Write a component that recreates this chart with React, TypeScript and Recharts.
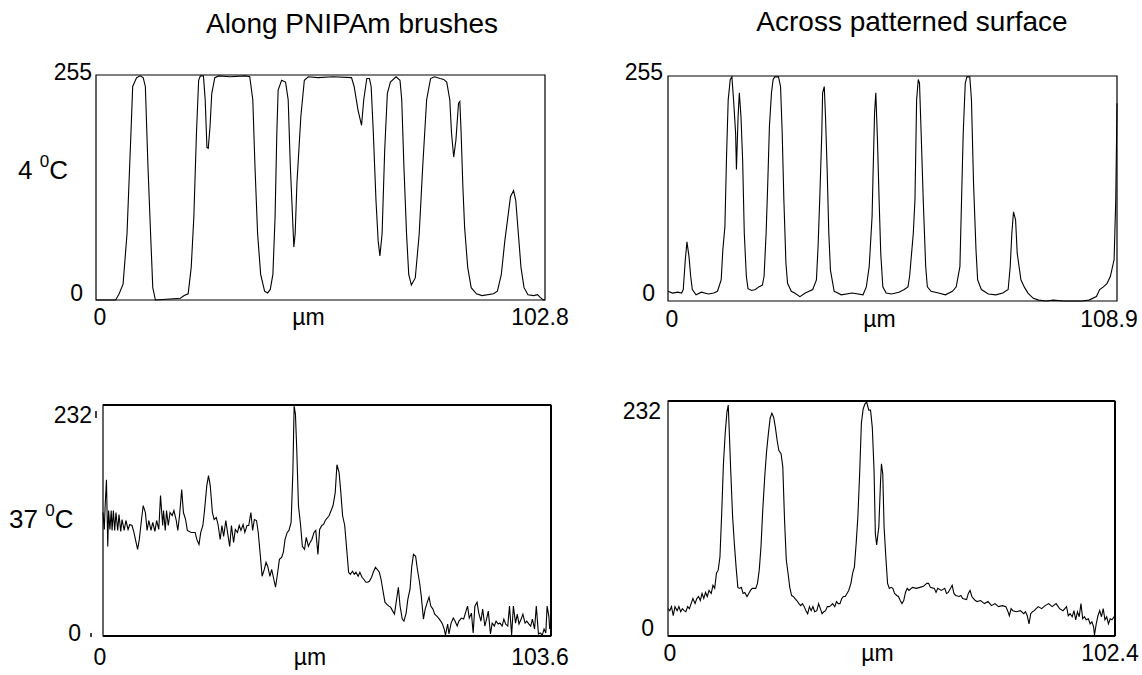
import { Line, LineChart, ReferenceArea, ReferenceLine, XAxis, YAxis } from 'recharts';

const FONT = '"Liberation Sans", Arial, Helvetica, sans-serif';

// grey-level profiles: [position in µm, intensity]
const along4C: [number, number][] = [
  [0, 0], [4.5, 0], [5.3, 7], [6.2, 18], [7.1, 75], [8.0, 189], [8.4, 242], [9.3, 252], [10.1, 254], [10.8, 252],
  [11.3, 242], [11.9, 151], [12.5, 75], [13.0, 14], [13.6, 0], [19.3, 2], [20.2, 5], [21.1, 7], [21.8, 37], [22.4, 94],
  [23.0, 189], [23.5, 249], [23.9, 254], [24.6, 254], [25.0, 227], [25.4, 173], [25.7, 172], [26.1, 196], [26.5, 234],
  [27.2, 252], [28.1, 254], [30.7, 253], [34.2, 254], [35.2, 253], [35.9, 227], [36.4, 151], [37.0, 75], [37.7, 29],
  [38.6, 10], [39.3, 8], [39.9, 12], [40.5, 29], [41.0, 94], [41.4, 189], [41.7, 238], [42.5, 249], [43.4, 247],
  [44.0, 227], [44.5, 151], [45.3, 60], [45.6, 75], [46.0, 132], [46.9, 208], [47.7, 249], [48.6, 253], [50.8, 252],
  [54.3, 253], [58.5, 252], [59.1, 242], [60.0, 215], [60.8, 198], [61.3, 227], [62.0, 251], [62.6, 251], [63.0, 242],
  [63.5, 189], [64.1, 113], [64.6, 67], [65.0, 50], [65.5, 75], [66.1, 170], [66.7, 234], [67.4, 247], [68.7, 253],
  [69.6, 249], [70.0, 227], [70.5, 151], [71.1, 75], [71.6, 29], [72.2, 17], [73.1, 25], [74.0, 75], [74.8, 151],
  [75.7, 227], [76.6, 251], [77.5, 253], [78.8, 251], [79.6, 250], [80.3, 247], [81.0, 227], [81.4, 189], [81.9, 162],
  [82.4, 181], [83.0, 223], [83.3, 225], [83.6, 189], [84.0, 128], [84.4, 82], [85.1, 37], [85.9, 14], [87.1, 7],
  [88.4, 5], [91.0, 7], [91.9, 10], [92.8, 29], [93.6, 67], [94.3, 94], [94.9, 117], [95.6, 124], [96.1, 113],
  [96.7, 75], [97.3, 37], [98.0, 14], [98.9, 6], [100.2, 5], [101.1, 6], [101.7, 3], [102.4, 0], [102.8, 0],
];

const across4C: [number, number][] = [
  [0, 11], [1.1, 9], [2.4, 10], [3.3, 9], [3.7, 13], [4.2, 47], [4.6, 67], [5.1, 50], [5.5, 28], [5.9, 13], [6.8, 7],
  [8.1, 10], [9.8, 8], [11.1, 9], [12.0, 11], [12.9, 24], [13.3, 58], [13.8, 84], [14.2, 164], [14.6, 228], [15.1, 251],
  [15.5, 254], [15.9, 228], [16.4, 190], [16.6, 149], [17.0, 209], [17.3, 236], [17.7, 209], [18.1, 160], [18.5, 77],
  [19.0, 28], [19.4, 14], [20.3, 12], [21.2, 13], [22.0, 16], [22.9, 18], [23.3, 28], [23.8, 77], [24.2, 134],
  [24.6, 198], [25.1, 236], [25.5, 251], [25.9, 254], [26.8, 254], [27.3, 243], [27.7, 190], [28.1, 115], [28.6, 43],
  [29.0, 20], [29.9, 11], [30.7, 9], [32.0, 5], [33.3, 9], [35.1, 13], [36.0, 24], [36.4, 62], [36.8, 115], [37.3, 190],
  [37.5, 236], [37.9, 243], [38.2, 209], [38.6, 149], [39.0, 77], [39.4, 35], [40.3, 11], [41.2, 9], [42.0, 7],
  [44.7, 9], [47.3, 7], [48.1, 16], [48.8, 39], [49.5, 96], [49.7, 137], [50.1, 213], [50.4, 236], [50.8, 183],
  [51.2, 115], [51.6, 54], [52.1, 16], [52.9, 9], [54.2, 8], [56.0, 10], [57.3, 13], [58.2, 16], [58.6, 28], [59.5, 77],
  [59.9, 115], [60.3, 228], [60.7, 251], [61.0, 247], [61.4, 190], [61.9, 115], [62.5, 39], [62.9, 16], [63.8, 11],
  [65.6, 9], [67.3, 7], [69.0, 11], [69.9, 16], [70.8, 39], [71.2, 115], [71.6, 190], [72.1, 247], [72.5, 254],
  [73.2, 254], [73.6, 228], [74.1, 134], [74.7, 58], [75.1, 24], [76.0, 13], [77.7, 8], [79.5, 7], [81.2, 9], [82.5, 13],
  [83.0, 39], [83.4, 77], [83.8, 101], [84.3, 92], [84.7, 54], [85.6, 24], [86.4, 16], [87.3, 9], [88.6, 3], [89.9, 1],
  [91.7, 0], [93.4, 1], [96.0, 0], [98.6, 0], [100.4, 0], [102.1, 1], [103.9, 5], [104.7, 13], [105.6, 16], [106.5, 20],
  [107.3, 28], [108.2, 47], [108.6, 115], [108.9, 224],
];

const along37C: [number, number][] = [
  [0, 124], [0.3, 107], [0.5, 131], [0.8, 157], [1.1, 90], [1.3, 126], [1.6, 107], [1.9, 126], [2.1, 106], [2.4, 126],
  [2.7, 106], [3.0, 124], [3.4, 106], [3.7, 122], [4.1, 105], [4.4, 117], [4.9, 106], [5.3, 116], [5.8, 107], [6.2, 112],
  [6.7, 111], [7.1, 105], [7.5, 97], [8.0, 87], [8.4, 97], [8.9, 117], [9.3, 131], [9.8, 124], [10.2, 106], [10.6, 116],
  [11.1, 106], [11.5, 114], [12.0, 105], [12.4, 116], [12.9, 107], [13.3, 141], [13.8, 111], [14.0, 126], [14.4, 106],
  [14.7, 126], [15.1, 111], [15.5, 124], [16.0, 121], [16.4, 126], [16.9, 117], [17.3, 106], [17.7, 121], [18.2, 147],
  [18.6, 124], [19.1, 117], [19.5, 106], [20.4, 104], [21.3, 104], [21.7, 97], [22.2, 92], [22.6, 104], [23.1, 111],
  [23.5, 127], [24.0, 151], [24.4, 161], [24.8, 151], [25.3, 124], [25.7, 117], [26.2, 119], [26.6, 112], [27.1, 97],
  [27.5, 111], [27.9, 100], [28.4, 116], [28.8, 104], [29.3, 90], [29.7, 111], [30.2, 94], [30.6, 107], [31.1, 104],
  [31.5, 111], [31.9, 106], [32.4, 112], [32.8, 104], [33.3, 111], [33.7, 111], [34.2, 124], [34.6, 106], [35.0, 117],
  [35.5, 116], [35.9, 104], [36.4, 80], [36.8, 60], [37.3, 67], [37.7, 74], [38.1, 70], [38.6, 60], [39.0, 67],
  [39.5, 57], [39.9, 49], [40.4, 64], [40.8, 77], [41.3, 79], [41.7, 84], [42.1, 97], [42.6, 104], [43.0, 106],
  [43.5, 114], [43.9, 164], [44.2, 231], [44.5, 223], [44.8, 188], [45.2, 131], [45.7, 111], [46.1, 90], [46.6, 87],
  [47.0, 99], [47.5, 90], [47.9, 94], [48.3, 97], [48.8, 104], [49.2, 106], [49.7, 82], [50.1, 107], [50.6, 111],
  [51.0, 112], [51.4, 116], [52.3, 121], [53.2, 131], [53.7, 144], [54.1, 172], [54.6, 164], [55.0, 144], [55.4, 121],
  [55.9, 111], [56.3, 90], [56.8, 64], [57.2, 62], [57.7, 65], [58.1, 62], [58.5, 64], [59.0, 60], [59.4, 64],
  [59.9, 59], [60.3, 57], [60.8, 54], [61.2, 54], [61.6, 55], [62.1, 59], [62.5, 64], [63.0, 69], [63.4, 67], [63.9, 64],
  [64.3, 57], [64.8, 44], [65.2, 34], [65.6, 32], [66.1, 30], [66.5, 29], [67.0, 25], [67.4, 22], [67.9, 37], [68.3, 49],
  [68.7, 30], [69.2, 17], [69.6, 15], [70.1, 23], [70.5, 37], [71.0, 47], [71.4, 70], [71.8, 82], [72.3, 80], [72.7, 67],
  [73.2, 54], [73.6, 40], [74.1, 17], [74.5, 27], [75.0, 34], [75.4, 39], [75.8, 30], [76.3, 27], [76.7, 22], [77.2, 20],
  [77.6, 18], [78.1, 15], [78.5, 12], [78.9, 7], [79.2, 1], [79.7, 12], [80.0, 2], [80.5, 13], [81.0, 18], [81.4, 15],
  [81.9, 10], [82.3, 15], [82.9, 18], [83.4, 17], [83.8, 23], [84.3, 30], [84.7, 18], [85.2, 23], [85.6, 3], [86.0, 30],
  [86.5, 34], [86.9, 23], [87.4, 15], [87.8, 27], [88.3, 10], [88.7, 17], [89.1, 25], [89.6, 2], [90.0, 13], [90.5, 10],
  [90.9, 15], [91.4, 12], [91.8, 13], [92.3, 10], [92.7, 17], [93.1, 12], [93.6, 10], [94.0, 30], [94.5, 1], [94.9, 30],
  [95.4, 13], [95.8, 22], [96.2, 12], [96.7, 17], [97.1, 22], [97.6, 13], [98.0, 15], [98.5, 12], [98.9, 10], [99.3, 17],
  [99.8, 7], [100.2, 30], [100.7, 2], [101.1, 3], [101.6, 1], [102.0, 7], [102.4, 3], [102.7, 30], [103.1, 20],
  [103.3, 7], [103.6, 12],
];

const across37C: [number, number][] = [
  [0, 27], [0.4, 25], [0.8, 29], [1.2, 20], [1.6, 29], [2.1, 25], [2.5, 29], [2.9, 24], [3.3, 27], [3.7, 25], [4.1, 24],
  [4.5, 29], [4.9, 27], [5.3, 32], [5.7, 37], [6.2, 32], [6.6, 37], [7.0, 39], [7.4, 35], [7.8, 42], [8.2, 37], [8.6, 43],
  [9.0, 39], [9.4, 45], [9.9, 42], [10.3, 50], [10.7, 47], [11.1, 62], [11.5, 65], [11.9, 78], [12.3, 121], [12.7, 170],
  [13.1, 200], [13.5, 221], [13.8, 228], [14.0, 206], [14.4, 160], [14.8, 118], [15.2, 91], [15.6, 68], [16.0, 48],
  [16.4, 47], [16.8, 48], [17.2, 42], [17.6, 43], [18.1, 39], [18.5, 42], [18.9, 45], [19.3, 47], [19.7, 47], [20.1, 47],
  [20.5, 52], [20.9, 65], [21.3, 88], [21.7, 124], [22.2, 160], [22.6, 183], [23.0, 200], [23.4, 215], [23.8, 220],
  [24.2, 216], [24.6, 206], [25.0, 193], [25.4, 183], [25.9, 180], [26.3, 167], [26.7, 114], [27.1, 75], [27.5, 62],
  [27.9, 48], [28.3, 40], [28.7, 39], [29.1, 37], [29.5, 35], [30.0, 32], [30.4, 30], [30.8, 32], [31.2, 29], [31.6, 25],
  [32.0, 22], [32.4, 29], [32.8, 25], [33.2, 29], [33.6, 24], [34.1, 25], [34.5, 32], [34.9, 27], [35.3, 22], [35.7, 24],
  [36.1, 25], [36.5, 29], [36.9, 29], [37.3, 30], [37.7, 32], [38.2, 29], [38.6, 34], [39.0, 32], [39.4, 32], [39.8, 37],
  [40.2, 39], [40.6, 39], [41.0, 42], [41.4, 45], [41.9, 52], [42.3, 62], [42.7, 68], [43.1, 91], [43.5, 118],
  [43.9, 160], [44.3, 210], [44.7, 224], [45.1, 229], [45.5, 231], [46.0, 223], [46.4, 223], [46.8, 206], [47.2, 164],
  [47.5, 101], [47.8, 90], [48.3, 108], [48.7, 154], [48.9, 170], [49.2, 160], [49.5, 108], [49.9, 78], [50.3, 52],
  [50.7, 47], [51.1, 48], [51.5, 47], [51.9, 42], [52.4, 40], [52.8, 39], [53.2, 35], [53.6, 32], [54.0, 35], [54.4, 43],
  [54.8, 47], [55.2, 45], [56.0, 48], [56.9, 47], [57.7, 48], [58.5, 49], [59.3, 52], [59.7, 52], [60.1, 48], [61.0, 47],
  [61.4, 43], [61.8, 47], [62.6, 45], [63.4, 47], [63.8, 42], [64.2, 43], [65.1, 50], [65.5, 42], [65.9, 40], [66.7, 39],
  [67.1, 40], [67.5, 37], [68.4, 36], [68.8, 42], [69.2, 45], [69.6, 39], [70.0, 37], [70.4, 35], [70.8, 34], [71.6, 35],
  [72.5, 32], [73.3, 34], [74.1, 30], [74.9, 32], [75.7, 29], [76.6, 30], [77.4, 29], [77.8, 25], [78.2, 20], [78.6, 27],
  [79.0, 25], [79.8, 24], [80.7, 25], [81.5, 22], [81.9, 24], [82.3, 20], [82.7, 12], [83.1, 22], [83.5, 24], [83.9, 25],
  [84.8, 29], [85.6, 27], [86.4, 30], [87.2, 32], [88.0, 29], [88.9, 32], [89.7, 27], [90.5, 25], [91.3, 29], [91.7, 20],
  [92.1, 22], [92.6, 19], [93.0, 25], [93.4, 16], [93.8, 24], [94.2, 19], [94.6, 32], [95.0, 17], [95.4, 19], [95.8, 16],
  [96.3, 17], [96.7, 12], [97.1, 14], [97.5, 9], [97.7, 1], [98.1, 12], [98.5, 20], [98.9, 25], [99.3, 19], [99.7, 27],
  [100.1, 16], [100.5, 19], [100.9, 12], [101.3, 17], [101.7, 16], [102.2, 19], [102.4, 16],
];

// axis ranges (x end is the scan length, y end the grey-level maximum)
const xEnds = [102.8, 108.9, 103.6, 102.4];
const yEnds = [255, 255, 232, 232];

const titles = ['Along PNIPAm brushes', 'Across patterned surface'];
const temps = ['4', '37'];
const unitLabel = 'µm';

// layout per panel: plot box in page px and label nudges
const PAD_L = 90;
const PAD_T = 20;
const PAD_R = 30;
const PAD_B = 50;
const Y_W = 60;
const X_H = 40;

const panels = [
  { data: along4C, box: { l: 96, t: 75, r: 545, b: 300 }, heavy: false,
    yTop: [-4, 5], yBot: [-13, 1], xBase: 25, x0: 4, x1: -5, unitDx: -12, marks: false },
  { data: across4C, box: { l: 668, t: 76, r: 1117, b: 301 }, heavy: false,
    yTop: [-5, 4], yBot: [-13, 0], xBase: 26, x0: 4, x1: -8, unitDx: -13, marks: false },
  { data: along37C, box: { l: 103, t: 405, r: 551, b: 636 }, heavy: true,
    yTop: [-11, 18], yBot: [-22, 5], xBase: 29, x0: -3, x1: -11, unitDx: -17, marks: true },
  { data: across37C, box: { l: 668, t: 401, r: 1115, b: 636 }, heavy: true,
    yTop: [-7, 18], yBot: [-14, 0], xBase: 25, x0: 2, x1: -5, unitDx: -14, marks: false },
];

const textStyle = { fontFamily: FONT, fontSize: 23, fill: '#000' };

function Profile({ idx }: { idx: number }) {
  const cfg = panels[idx];
  const xMax = xEnds[idx];
  const yMax = yEnds[idx];
  const w = cfg.box.r - cfg.box.l;
  const h = cfg.box.b - cfg.box.t;
  const bottom = PAD_T + h;
  const rows = cfg.data.map(([x, v]) => ({ x, v }));

  const xTick = (p: any) => {
    const first = p.index === 0;
    return (
      <text x={p.x + (first ? cfg.x0 : cfg.x1)} y={bottom + cfg.xBase} textAnchor="middle" {...textStyle}>
        {p.payload.value}
      </text>
    );
  };

  const yTick = (p: any) => {
    const top = p.payload.value === yMax;
    const [dx, dy] = top ? cfg.yTop : cfg.yBot;
    const y = (top ? PAD_T : bottom) + dy;
    return (
      <g>
        <text x={PAD_L + dx} y={y} textAnchor="end" {...textStyle}>
          {p.payload.value}
        </text>
        {cfg.marks && (
          <line
            x1={PAD_L + (top ? -7 : -12)}
            x2={PAD_L + (top ? -7 : -12)}
            y1={top ? PAD_T + 6 : bottom - 3}
            y2={top ? PAD_T + 13 : bottom + 1}
            stroke="#000"
            strokeWidth={1.5}
          />
        )}
      </g>
    );
  };

  const unit = () => (
    <text x={PAD_L + w / 2 + cfg.unitDx} y={bottom + cfg.xBase} textAnchor="middle" {...textStyle}>
      {unitLabel}
    </text>
  );

  return (
    <div style={{ position: 'absolute', left: cfg.box.l - PAD_L, top: cfg.box.t - PAD_T }}>
      <LineChart
        width={w + PAD_L + PAD_R}
        height={h + PAD_T + PAD_B}
        data={rows}
        margin={{ top: PAD_T, right: PAD_R, bottom: PAD_B - X_H, left: PAD_L - Y_W }}
      >
        <XAxis
          type="number"
          dataKey="x"
          domain={[0, xMax]}
          ticks={[0, xMax]}
          interval={0}
          height={X_H}
          axisLine={false}
          tickLine={false}
          tick={xTick}
          label={unit}
        />
        <YAxis
          type="number"
          domain={[0, yMax]}
          ticks={[0, yMax]}
          interval={0}
          width={Y_W}
          axisLine={false}
          tickLine={false}
          tick={yTick}
        />
        <Line
          type="linear"
          dataKey="v"
          stroke="#000"
          strokeWidth={1.1}
          dot={false}
          isAnimationActive={false}
        />
        <ReferenceArea x1={0} x2={xMax} y1={0} y2={yMax} fill="none" stroke="#000" strokeWidth={1.2} ifOverflow="visible" />
        {cfg.heavy && <ReferenceLine y={yMax} stroke="#000" strokeWidth={2.2} ifOverflow="visible" />}
        {cfg.heavy && <ReferenceLine x={xMax} stroke="#000" strokeWidth={2} ifOverflow="visible" />}
        {cfg.heavy && <ReferenceLine y={0} stroke="#000" strokeWidth={2} ifOverflow="visible" />}
      </LineChart>
    </div>
  );
}

export default function App() {
  return (
    <div style={{ position: 'absolute', left: 0, top: 0, width: 1142, height: 675, background: '#fff', overflow: 'hidden' }}>
      <svg width={1142} height={675} style={{ position: 'absolute', left: 0, top: 0 }}>
        <text x={352} y={33} textAnchor="middle" fontFamily={FONT} fontSize={28} fill="#000">{titles[0]}</text>
        <text x={912} y={31} textAnchor="middle" fontFamily={FONT} fontSize={28} fill="#000">{titles[1]}</text>
        <text x={18} y={179} fontFamily={FONT} fontSize={26} fill="#000">
          {temps[0]} <tspan fontSize={17} dy={-12}>0</tspan><tspan dy={12}>C</tspan>
        </text>
        <text x={9} y={528} fontFamily={FONT} fontSize={26} fill="#000">
          {temps[1]} <tspan fontSize={17} dy={-12}>0</tspan><tspan dy={12}>C</tspan>
        </text>
      </svg>
      {panels.map((_, i) => (
        <Profile key={i} idx={i} />
      ))}
    </div>
  );
}
